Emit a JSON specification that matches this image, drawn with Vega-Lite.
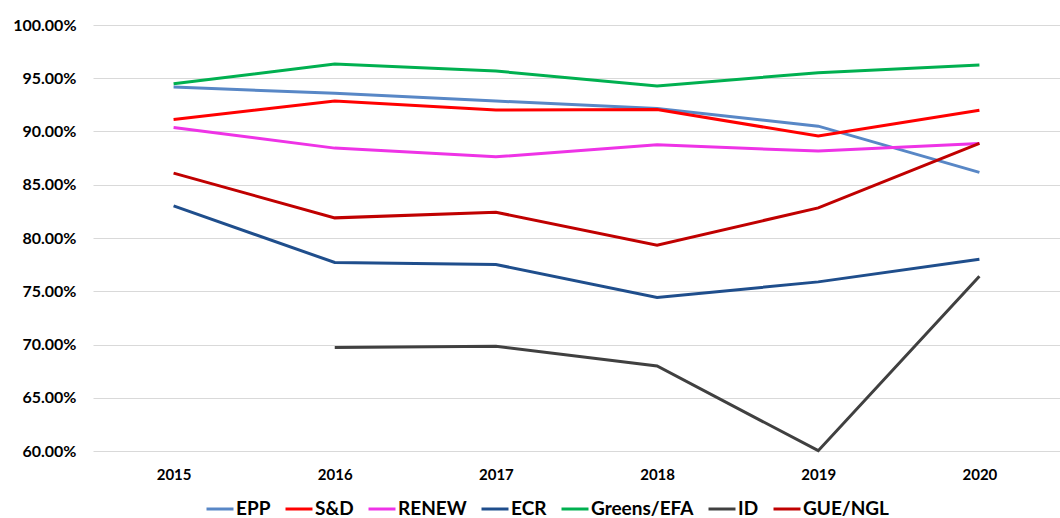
{
  "$schema": "https://vega.github.io/schema/vega-lite/v6.json",
  "width": 967,
  "height": 426,
  "autosize": {"type": "none"},
  "padding": {"left": 93, "top": 25, "right": 0, "bottom": 67},
  "background": "white",
  "config": {
    "view": {"stroke": null},
    "font": "Lato"
  },
  "data": {
    "values": [
      {"year": "2015", "group": "EPP", "v": 0.9417},
      {"year": "2016", "group": "EPP", "v": 0.9358},
      {"year": "2017", "group": "EPP", "v": 0.9286},
      {"year": "2018", "group": "EPP", "v": 0.9217},
      {"year": "2019", "group": "EPP", "v": 0.9050},
      {"year": "2020", "group": "EPP", "v": 0.8616},
      {"year": "2015", "group": "S&D", "v": 0.9113},
      {"year": "2016", "group": "S&D", "v": 0.9286},
      {"year": "2017", "group": "S&D", "v": 0.9201},
      {"year": "2018", "group": "S&D", "v": 0.9207},
      {"year": "2019", "group": "S&D", "v": 0.8957},
      {"year": "2020", "group": "S&D", "v": 0.9200},
      {"year": "2015", "group": "RENEW", "v": 0.9038},
      {"year": "2016", "group": "RENEW", "v": 0.8844},
      {"year": "2017", "group": "RENEW", "v": 0.8762},
      {"year": "2018", "group": "RENEW", "v": 0.8875},
      {"year": "2019", "group": "RENEW", "v": 0.8816},
      {"year": "2020", "group": "RENEW", "v": 0.8888},
      {"year": "2015", "group": "ECR", "v": 0.8302},
      {"year": "2016", "group": "ECR", "v": 0.7770},
      {"year": "2017", "group": "ECR", "v": 0.7751},
      {"year": "2018", "group": "ECR", "v": 0.7441},
      {"year": "2019", "group": "ECR", "v": 0.7588},
      {"year": "2020", "group": "ECR", "v": 0.7800},
      {"year": "2015", "group": "Greens/EFA", "v": 0.9449},
      {"year": "2016", "group": "Greens/EFA", "v": 0.9633},
      {"year": "2017", "group": "Greens/EFA", "v": 0.9568},
      {"year": "2018", "group": "Greens/EFA", "v": 0.9427},
      {"year": "2019", "group": "Greens/EFA", "v": 0.9552},
      {"year": "2020", "group": "Greens/EFA", "v": 0.9624},
      {"year": "2016", "group": "ID", "v": 0.6971},
      {"year": "2017", "group": "ID", "v": 0.6983},
      {"year": "2018", "group": "ID", "v": 0.6798},
      {"year": "2019", "group": "ID", "v": 0.6003},
      {"year": "2020", "group": "ID", "v": 0.7641},
      {"year": "2015", "group": "GUE/NGL", "v": 0.8609},
      {"year": "2016", "group": "GUE/NGL", "v": 0.8189},
      {"year": "2017", "group": "GUE/NGL", "v": 0.8242},
      {"year": "2018", "group": "GUE/NGL", "v": 0.7932},
      {"year": "2019", "group": "GUE/NGL", "v": 0.8283},
      {"year": "2020", "group": "GUE/NGL", "v": 0.8888}
    ]
  },
  "mark": {"type": "line", "strokeWidth": 3, "strokeCap": "butt", "strokeJoin": "miter", "clip": false},
  "encoding": {
    "x": {
      "field": "year",
      "type": "ordinal",
      "scale": {"type": "point", "padding": 0.5},
      "axis": {
        "title": null,
        "labelAngle": 0,
        "domain": false,
        "ticks": false,
        "grid": false,
        "labelFont": "Lato",
        "labelFontWeight": "bold",
        "labelFontSize": 15,
        "labelColor": "#000000",
        "labelPadding": 16
      }
    },
    "y": {
      "field": "v",
      "type": "quantitative",
      "scale": {"domain": [0.6, 1.0], "nice": false, "zero": false},
      "axis": {
        "title": null,
        "values": [0.6, 0.65, 0.7, 0.75, 0.8, 0.85, 0.9, 0.95, 1.0],
        "format": ".2%",
        "domain": false,
        "ticks": false,
        "grid": true,
        "gridColor": "#d9d9d9",
        "gridWidth": 1,
        "labelFont": "Lato",
        "labelFontWeight": "bold",
        "labelFontSize": 16,
        "labelColor": "#000000",
        "labelPadding": 17
      }
    },
    "color": {
      "field": "group",
      "type": "nominal",
      "sort": ["EPP", "S&D", "RENEW", "ECR", "Greens/EFA", "ID", "GUE/NGL"],
      "scale": {
        "domain": ["EPP", "S&D", "RENEW", "ECR", "Greens/EFA", "ID", "GUE/NGL"],
        "range": ["#5887c6", "#ff0000", "#ee33e6", "#1f4e8c", "#00b050", "#404040", "#c00000"]
      },
      "legend": {
        "title": null,
        "orient": "none",
        "direction": "horizontal",
        "legendX": 112,
        "legendY": 469,
        "symbolType": "stroke",
        "symbolSize": 729,
        "symbolStrokeWidth": 3,
        "labelFont": "Lato",
        "labelFontWeight": "bold",
        "labelFontSize": 19,
        "labelColor": "#000000",
        "labelOffset": 1,
        "columnPadding": 8
      }
    }
  }
}
